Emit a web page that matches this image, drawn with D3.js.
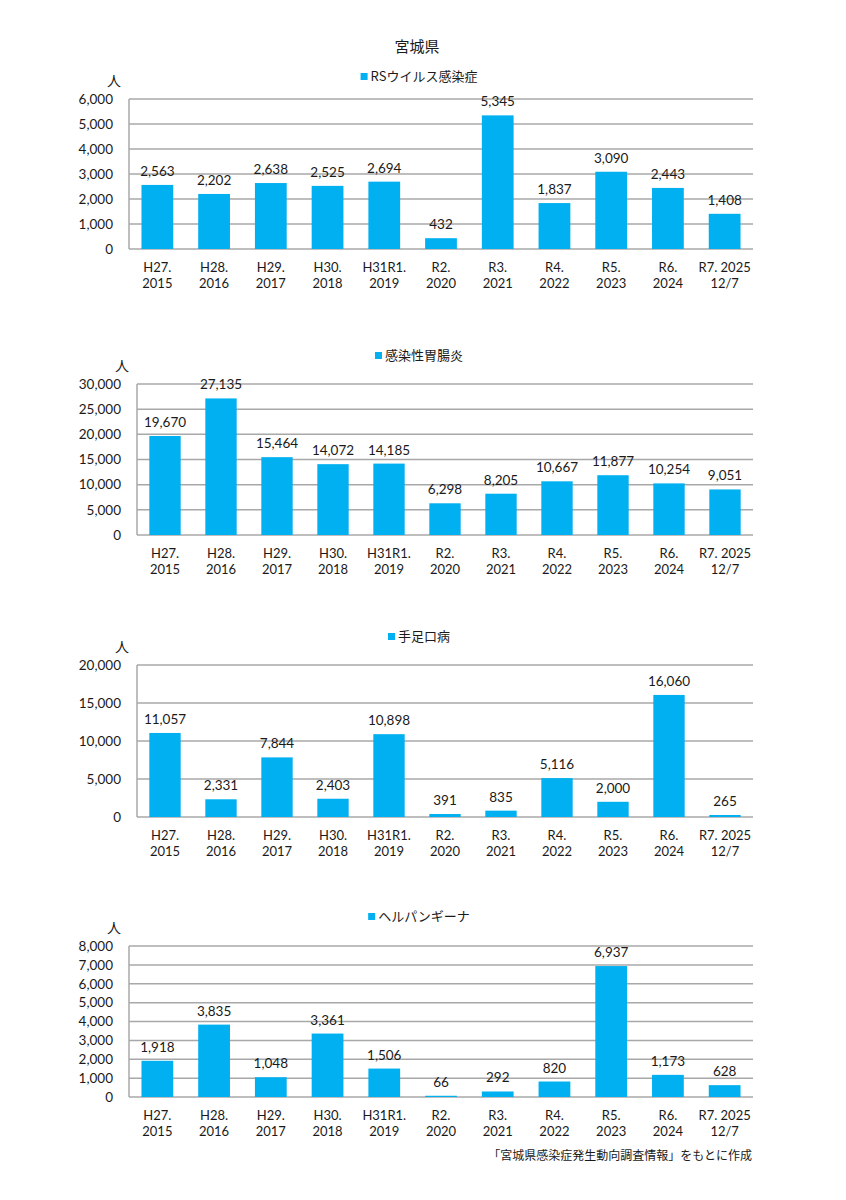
<!DOCTYPE html>
<html><head><meta charset="utf-8">
<script src="https://cdn.jsdelivr.net/npm/d3@7"></script>
<style>
html,body{margin:0;padding:0;background:#fff;}
text{fill:#1a1a1a;}
</style></head>
<body>
<svg id="c" width="846" height="1200"></svg>
<script>
const catLine1 = ["H27.","H28.","H29.","H30.","H31R1.","R2.","R3.","R4.","R5.","R6.","R7. 2025"];
const catLine2 = ["2015","2016","2017","2018","2019","2020","2021","2022","2023","2024","12/7"];
const rsvValues = [2563,2202,2638,2525,2694,432,5345,1837,3090,2443,1408];
const gastroValues = [19670,27135,15464,14072,14185,6298,8205,10667,11877,10254,9051];
const hfmdValues = [11057,2331,7844,2403,10898,391,835,5116,2000,16060,265];
const herpValues = [1918,3835,1048,3361,1506,66,292,820,6937,1173,628];
const rsvTicks = [0,1000,2000,3000,4000,5000,6000];
const gastroTicks = [0,5000,10000,15000,20000,25000,30000];
const hfmdTicks = [0,5000,10000,15000,20000];
const herpTicks = [0,1000,2000,3000,4000,5000,6000,7000,8000];
const seriesNames = ["RSウイルス感染症","感染性胃腸炎","手足口病","ヘルパンギーナ"];
const titleText = "宮城県";
const unitText = "人";
const sourceText = "「宮城県感染症発生動向調査情報」をもとに作成";

const charts = [
  {name:seriesNames[0], values:rsvValues, ticks:rsvTicks, left:129, top:99, bottom:249, legendY:77},
  {name:seriesNames[1], values:gastroValues, ticks:gastroTicks, left:137, top:384, bottom:535, legendY:356},
  {name:seriesNames[2], values:hfmdValues, ticks:hfmdTicks, left:137, top:665, bottom:817, legendY:637},
  {name:seriesNames[3], values:herpValues, ticks:herpTicks, left:129, top:946, bottom:1097, legendY:917}
];
const RIGHT = 753;
const BAR = "#00b0f0";
const GRID = "#a8a8a8";
const NUMFONT = "Lato, 'Noto Sans', sans-serif";
const JPFONT = "'Noto Sans CJK JP', sans-serif";
const fmt = d3.format(",");

const svg = d3.select("#c");
svg.append("text").attr("x",417).attr("y",52).attr("text-anchor","middle")
  .style("font-family",JPFONT).style("font-size","15px").text(titleText);

charts.forEach(c => {
  const g = svg.append("g");
  const x = d3.scaleBand().domain(d3.range(catLine1.length)).range([c.left, RIGHT]).paddingInner(0.44).paddingOuter(0.22);
  const y = d3.scaleLinear().domain([0, d3.max(c.ticks)]).range([c.bottom, c.top]);

  g.selectAll("line.grid").data(c.ticks).join("line")
    .attr("x1",c.left).attr("x2",RIGHT).attr("y1",d=>y(d)).attr("y2",d=>y(d))
    .attr("stroke",GRID).attr("stroke-width",1.5);
  g.append("line").attr("x1",c.left).attr("x2",c.left).attr("y1",y(d3.max(c.ticks))).attr("y2",c.bottom)
    .attr("stroke",GRID).attr("stroke-width",1.5);

  const yAxis = d3.axisLeft(y).tickValues(c.ticks).tickFormat(fmt).tickSize(0).tickPadding(16);
  const ya = g.append("g").attr("transform",`translate(${c.left},0)`).call(yAxis);
  ya.select(".domain").remove();
  ya.selectAll("text").style("font-family",NUMFONT).style("font-size","13.5px").attr("fill","#1a1a1a");

  g.selectAll("rect.bar").data(c.values).join("rect")
    .attr("x",(d,i)=>x(i)).attr("width",x.bandwidth())
    .attr("y",d=>y(d)).attr("height",d=>c.bottom - y(d)).attr("fill",BAR);

  g.selectAll("text.val").data(c.values).join("text")
    .attr("x",(d,i)=>x(i)+x.bandwidth()/2).attr("y",d=>y(d)-9).attr("text-anchor","middle")
    .style("font-family",NUMFONT).style("font-size","13.5px").text(d=>fmt(d));

  const xl = g.selectAll("text.xl").data(catLine1.map((d,i)=>i)).join("text")
    .attr("text-anchor","middle").style("font-family",NUMFONT).style("font-size","13px");
  xl.append("tspan").attr("x",i=>x(i)+x.bandwidth()/2).attr("y",c.bottom+23).text(i=>catLine1[i]);
  xl.append("tspan").attr("x",i=>x(i)+x.bandwidth()/2).attr("y",c.bottom+39).text(i=>catLine2[i]);

  g.append("text").attr("x",c.left-15).attr("y",c.top-13).attr("text-anchor","middle")
    .style("font-family",JPFONT).style("font-size","14px").text(unitText);

  const lg = g.append("g");
  lg.append("rect").attr("width",7).attr("height",7).attr("fill",BAR);
  const lt = lg.append("text").attr("x",10).attr("y",4).attr("dominant-baseline","middle")
    .style("font-family",JPFONT).style("font-size","13px").text(c.name);
  const w = 10 + lt.node().getComputedTextLength();
  lg.attr("transform",`translate(${419 - w/2},${c.legendY-4})`);
});

svg.append("text").attr("x",752).attr("y",1160).attr("text-anchor","end")
  .style("font-family",JPFONT).style("font-size","12px").text(sourceText);
</script>
</body></html>
